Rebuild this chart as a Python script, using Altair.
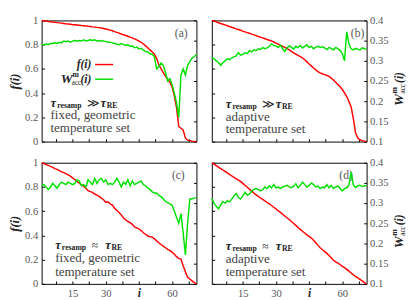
import altair as alt
import pandas as pd

I = list(range(1, 72))

RED_A = [1.000, 0.997, 0.995, 0.992, 0.990, 0.987, 0.985, 0.982, 0.980, 0.978,
         0.975, 0.972, 0.970, 0.968, 0.965, 0.964, 0.962, 0.960, 0.958, 0.957,
         0.955, 0.952, 0.950, 0.947, 0.945, 0.943, 0.941, 0.938, 0.934, 0.930,
         0.925, 0.920, 0.915, 0.908, 0.902, 0.895, 0.888, 0.882, 0.876, 0.870,
         0.863, 0.856, 0.848, 0.840, 0.830, 0.820, 0.806, 0.790, 0.775, 0.757,
         0.740, 0.722, 0.685, 0.635, 0.600, 0.570, 0.540, 0.515, 0.490, 0.450,
         0.380, 0.280, 0.125, 0.110, 0.095, 0.030, 0.012, 0.008, 0.004, 0.002, 0.000]
GREEN_A = [0.340, 0.340, 0.3415, 0.340, 0.343, 0.343, 0.3445, 0.343, 0.346, 0.3445,
           0.349, 0.3475, 0.349, 0.346, 0.349, 0.3505, 0.349, 0.3505, 0.349, 0.352,
           0.349, 0.3505, 0.352, 0.3505, 0.352, 0.349, 0.3505, 0.349, 0.349, 0.3475,
           0.346, 0.346, 0.3445, 0.343, 0.3415, 0.340, 0.343, 0.340, 0.3385, 0.340,
           0.3355, 0.337, 0.3325, 0.334, 0.3295, 0.331, 0.3265, 0.3235, 0.322, 0.3175,
           0.316, 0.310, 0.280, 0.286, 0.295, 0.289, 0.271, 0.250, 0.256, 0.241,
           0.220, 0.196, 0.160, 0.265, 0.280, 0.265, 0.289, 0.298, 0.307, 0.310, 0.316]

RED_B = [1.000, 0.994, 0.988, 0.981, 0.975, 0.969, 0.963, 0.956, 0.950, 0.944,
         0.938, 0.931, 0.925, 0.919, 0.912, 0.906, 0.900, 0.894, 0.887, 0.881,
         0.875, 0.868, 0.862, 0.856, 0.849, 0.843, 0.837, 0.831, 0.822, 0.813,
         0.804, 0.795, 0.786, 0.777, 0.767, 0.757, 0.745, 0.733, 0.722, 0.712,
         0.702, 0.692, 0.675, 0.658, 0.641, 0.625, 0.608, 0.592, 0.578, 0.568,
         0.560, 0.553, 0.546, 0.538, 0.524, 0.508, 0.490, 0.472, 0.452, 0.430,
         0.402, 0.372, 0.330, 0.285, 0.190, 0.073, 0.030, 0.015, 0.008, 0.004, 0.000]
GREEN_B = [0.308, 0.305, 0.300, 0.296, 0.289, 0.296, 0.300, 0.305, 0.303, 0.307,
           0.310, 0.312, 0.320, 0.314, 0.316, 0.320, 0.318, 0.325, 0.322, 0.327,
           0.325, 0.330, 0.328, 0.333, 0.330, 0.332, 0.336, 0.342, 0.338, 0.337,
           0.333, 0.339, 0.330, 0.323, 0.332, 0.337, 0.334, 0.329, 0.336, 0.333,
           0.338, 0.332, 0.336, 0.340, 0.333, 0.336, 0.330, 0.334, 0.336, 0.333,
           0.335, 0.332, 0.328, 0.333, 0.331, 0.327, 0.333, 0.330, 0.326, 0.318,
           0.300, 0.372, 0.342, 0.330, 0.327, 0.331, 0.329, 0.327, 0.332, 0.330, 0.329]

RED_C = [1.000, 0.995, 0.985, 0.978, 0.970, 0.962, 0.952, 0.946, 0.935, 0.925,
         0.918, 0.910, 0.900, 0.890, 0.875, 0.862, 0.845, 0.832, 0.818, 0.805,
         0.790, 0.770, 0.762, 0.755, 0.742, 0.733, 0.722, 0.708, 0.695, 0.672,
         0.678, 0.660, 0.650, 0.625, 0.605, 0.590, 0.570, 0.545, 0.528, 0.515,
         0.505, 0.492, 0.470, 0.462, 0.455, 0.440, 0.422, 0.410, 0.395, 0.390,
         0.385, 0.372, 0.355, 0.340, 0.325, 0.312, 0.298, 0.285, 0.275, 0.262,
         0.245, 0.225, 0.210, 0.205, 0.150, 0.100, 0.055, 0.040, 0.025, 0.010, 0.000]
GREEN_C = [0.343, 0.346, 0.340, 0.334, 0.340, 0.349, 0.343, 0.337, 0.346, 0.352,
           0.349, 0.346, 0.352, 0.349, 0.346, 0.349, 0.358, 0.355, 0.343, 0.346,
           0.340, 0.358, 0.352, 0.346, 0.361, 0.349, 0.358, 0.361, 0.352, 0.358,
           0.346, 0.349, 0.346, 0.352, 0.361, 0.352, 0.340, 0.352, 0.346, 0.358,
           0.343, 0.355, 0.346, 0.349, 0.352, 0.355, 0.346, 0.343, 0.337, 0.334,
           0.328, 0.325, 0.325, 0.319, 0.316, 0.310, 0.304, 0.301, 0.298, 0.295,
           0.280, 0.265, 0.250, 0.274, 0.226, 0.172, 0.250, 0.310, 0.310, 0.313, 0.313]

RED_D = [1.000, 0.988, 0.976, 0.964, 0.952, 0.940, 0.928, 0.916, 0.904, 0.892,
         0.880, 0.868, 0.857, 0.846, 0.830, 0.814, 0.798, 0.782, 0.766, 0.750,
         0.735, 0.722, 0.709, 0.697, 0.685, 0.672, 0.660, 0.647, 0.633, 0.619,
         0.604, 0.590, 0.575, 0.560, 0.546, 0.531, 0.515, 0.499, 0.483, 0.466,
         0.450, 0.434, 0.420, 0.405, 0.392, 0.378, 0.360, 0.340, 0.318, 0.298,
         0.282, 0.268, 0.252, 0.235, 0.215, 0.195, 0.182, 0.172, 0.160, 0.145,
         0.134, 0.120, 0.105, 0.090, 0.075, 0.062, 0.050, 0.038, 0.025, 0.010, 0.000]
GREEN_D = [0.312, 0.300, 0.292, 0.286, 0.295, 0.304, 0.300, 0.306, 0.303, 0.310,
           0.318, 0.324, 0.314, 0.310, 0.318, 0.327, 0.320, 0.322, 0.330, 0.334,
           0.336, 0.334, 0.330, 0.333, 0.340, 0.336, 0.343, 0.338, 0.346, 0.338,
           0.340, 0.336, 0.340, 0.342, 0.344, 0.340, 0.338, 0.342, 0.348, 0.338,
           0.344, 0.352, 0.346, 0.340, 0.344, 0.350, 0.346, 0.340, 0.342, 0.336,
           0.340, 0.338, 0.346, 0.338, 0.344, 0.336, 0.340, 0.342, 0.336, 0.330,
           0.336, 0.338, 0.345, 0.377, 0.345, 0.338, 0.343, 0.344, 0.341, 0.343, 0.343]

X_DOMAIN = [1, 71]
F_DOMAIN = [0, 1]
W_DOMAIN = [0.1, 0.4]
X_TICKS = [7.5, 15, 22.5, 30, 37.5, 45, 52.5, 60, 67.5]
F_TICKS = [0, 0.2, 0.4, 0.6, 0.8, 1]
W_TICKS = [0.1, 0.15, 0.2, 0.25, 0.3, 0.35, 0.4]

PANEL_LABELS = ["(a)", "(b)", "(c)", "(d)"]
PANEL_LABEL_POS = [(64.1, 0.894), (66.9, 0.894), (62.8, 0.895), (61.7, 0.895)]
TEXT_POS = [(5.0, [0.32, 0.215, 0.11]), (7.3, [0.31, 0.205, 0.10]),
            (7.1, [0.32, 0.21, 0.10]), (7.3, [0.31, 0.205, 0.10])]
RELATIONS = ["≫", "≫", "≈", "≈"]
SET_LINES = [["fixed, geometric", "temperature set"], ["adaptive", "temperature set"],
             ["fixed, geometric", "temperature set"], ["adaptive", "temperature set"]]
LEGEND_TEXT_X = 23.5
LEGEND_LINE_X = [25.2, 33.3]
LEGEND_Y = [0.636, 0.515]

PW, PH = 161, 126
FONT = "Liberation Serif"
RED = "#ff0000"
GREEN = "#00e000"
DARK = "#222222"
GRAY = "#555555"

XS = alt.Scale(domain=X_DOMAIN, nice=False, zero=False)
FS = alt.Scale(domain=F_DOMAIN, nice=False, zero=False)
WS = alt.Scale(domain=W_DOMAIN, nice=False, zero=False)


def x_axis(show):
    return alt.Axis(values=X_TICKS, labels=show, title=None, grid=False, domain=False,
                    ticks=True, tickSize=3, offset=-3, labelPadding=4,
                    labelExpr="datum.value == 45 ? 'i' : (datum.value % 15 == 0 ? datum.label : '')",
                    labelFontStyle={"condition": {"test": "datum.value == 45", "value": "italic"}, "value": "normal"},
                    labelFontWeight={"condition": {"test": "datum.value == 45", "value": "bold"}, "value": "normal"},
                    labelColor={"condition": {"test": "datum.value == 45", "value": DARK}, "value": GRAY},
                    labelFontSize={"condition": {"test": "datum.value == 45", "value": 12}, "value": 11})


def f_axis(show):
    kw = dict(orient="left", values=F_TICKS, format="~g", labels=show, grid=False, domain=False,
              ticks=True, tickSize=3, offset=-3, labelPadding=4)
    if show:
        kw.update(title="f(i)", titleFont=FONT, titleFontStyle="italic", titleFontWeight="bold",
                  titleFontSize=13, titleColor=DARK, titlePadding=3)
    else:
        kw.update(title=None)
    return alt.Axis(**kw)


def w_axis(show):
    return alt.Axis(orient="right", values=W_TICKS, format="~g", labels=show, title=None, grid=False,
                    domain=False, ticks=True, tickSize=3, offset=-3, labelPadding=3)


class Ctx:
    xa = None
    fa = None


def label(x, y, text, dx=0, dy=0, size=13.5, style="normal", weight="normal", color="#444444", align="left"):
    d = pd.DataFrame({"i": [x], "f": [y], "t": [text]})
    return alt.Chart(d).mark_text(dx=dx, dy=dy, fontSize=size, fontStyle=style, fontWeight=weight,
                                  color=color, align=align, baseline="middle", font=FONT).encode(
        x=alt.X("i:Q", scale=XS, axis=Ctx.xa), y=alt.Y("f:Q", scale=FS, axis=Ctx.fa), text="t:N")


def tau_block(x, y, rel):
    return [label(x, y, "τ", 0, 0, 13, "italic", "bold", DARK),
            label(x, y, "resamp", 7, 3, 8, "normal", "bold", DARK),
            label(x, y, rel, 38, 0, 12, "normal", "normal", DARK),
            label(x, y, "τ", 52, 0, 13, "italic", "bold", DARK),
            label(x, y, "RE", 58.5, 3, 8, "normal", "bold", DARK)]


def right_title():
    d = pd.DataFrame({"k": [0]})
    pieces = [("W", -22, 0, 14, "italic", "bold"),
              ("m", -9, -4, 8, "normal", "bold"),
              ("acc", -9, 4, 7.5, "normal", "normal"),
              ("(i)", 2, 0, 12, "italic", "bold")]
    out = []
    for t, dx, dy, s, st, w in pieces:
        out.append(alt.Chart(d).mark_text(text=t, angle=270, dx=dx, dy=dy, fontSize=s, fontStyle=st,
                                          fontWeight=w, font=FONT, color=DARK, align="left",
                                          baseline="middle").encode(
            x=alt.value(PW + 34), y=alt.value(PH / 2 + 4)))
    return out


def legend():
    out = []
    fx = LEGEND_TEXT_X
    out.append(label(fx, LEGEND_Y[0], "f(i)", 0, 0, 12, "italic", "bold", DARK, "right"))
    out.append(label(fx, LEGEND_Y[1], "(i)", 0, 0, 12, "italic", "bold", DARK, "right"))
    out.append(label(fx, LEGEND_Y[1], "acc", -10.5, 4, 7.5, "normal", "normal", DARK, "right"))
    out.append(label(fx, LEGEND_Y[1], "m", -13, -4, 8, "normal", "bold", DARK, "right"))
    out.append(label(fx, LEGEND_Y[1], "W", -19.5, 0, 14, "italic", "bold", DARK, "right"))
    for yv, col in zip(LEGEND_Y, [RED, GREEN]):
        d = pd.DataFrame({"i": [LEGEND_LINE_X[0]], "i2": [LEGEND_LINE_X[1]], "f": [yv]})
        out.append(alt.Chart(d).mark_rule(color=col, strokeWidth=1.5).encode(
            x=alt.X("i:Q", scale=XS, axis=Ctx.xa), x2="i2:Q", y=alt.Y("f:Q", scale=FS, axis=Ctx.fa)))
    return out


def panel(k, red, green, left, bottom):
    Ctx.xa = x_axis(bottom)
    Ctx.fa = f_axis(left)
    df = pd.DataFrame({"i": I, "f": red, "W": green})
    redl = alt.Chart(df).mark_line(color=RED, strokeWidth=1.5).encode(
        x=alt.X("i:Q", scale=XS, axis=Ctx.xa),
        y=alt.Y("f:Q", scale=FS, axis=Ctx.fa))
    greenl = alt.Chart(df).mark_line(color=GREEN, strokeWidth=1.5).encode(
        x=alt.X("i:Q", scale=XS, axis=Ctx.xa),
        y=alt.Y("W:Q", scale=WS, axis=w_axis(not left)))
    extras = []
    tx, tys = TEXT_POS[k]
    extras += tau_block(tx, tys[0], RELATIONS[k])
    extras.append(label(tx, tys[1], SET_LINES[k][0]))
    extras.append(label(tx, tys[2], SET_LINES[k][1]))
    px, py = PANEL_LABEL_POS[k]
    extras.append(label(px, py, PANEL_LABELS[k], 0, 0, 12, "normal", "normal", GRAY, "center"))
    if k == 0:
        extras += legend()
    if not left:
        extras += right_title()
    inner = alt.layer(redl, *extras)
    return alt.layer(inner, greenl).resolve_scale(y="independent").properties(width=PW, height=PH)


pa = panel(0, RED_A, GREEN_A, True, False)
pb = panel(1, RED_B, GREEN_B, False, False)
pc = panel(2, RED_C, GREEN_C, True, True)
pdd = panel(3, RED_D, GREEN_D, False, True)

chart = alt.vconcat(
    alt.hconcat(pa, pb, spacing=8),
    alt.hconcat(pc, pdd, spacing=8),
    spacing=9,
).configure_view(stroke="black", strokeWidth=1).configure_axis(
    labelFont=FONT, labelColor=GRAY, labelFontSize=11, tickColor="black", tickWidth=1
).properties(padding=0, background="white")

chart.save("out.html", embed_options={"renderer": "svg", "actions": False})
